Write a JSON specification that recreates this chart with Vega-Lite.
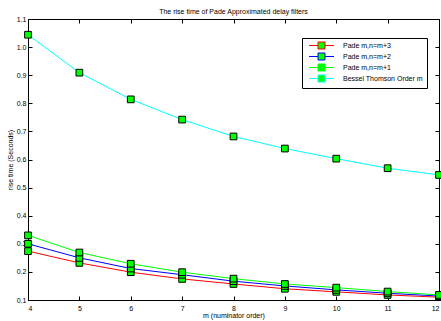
{
  "$schema": "https://vega.github.io/schema/vega-lite/v6.json",
  "width": 411,
  "height": 281,
  "autosize": {"type": "none"},
  "padding": {"left": 28, "top": 19, "right": 2, "bottom": 21},
  "background": "white",
  "title": {"text": "The rise time of Pade Approximated delay filters", "fontSize": 7, "fontWeight": "normal", "font": "Liberation Sans", "offset": 0, "color": "black"},
  "config": {
    "view": {"stroke": "black", "strokeWidth": 1},
    "font": "Liberation Sans",
    "axis": {"domainColor": "black", "tickColor": "black", "labelColor": "black", "titleColor": "black", "labelFontSize": 7, "titleFontSize": 7, "titleFontWeight": "normal", "grid": false, "tickSize": -4, "labelFont": "Liberation Sans", "titleFont": "Liberation Sans"}
  },
  "data": {"values": [
    {"m": 4, "t": 0.274, "s": "Pade m,n=m+3"},
    {"m": 5, "t": 0.232, "s": "Pade m,n=m+3"},
    {"m": 6, "t": 0.199, "s": "Pade m,n=m+3"},
    {"m": 7, "t": 0.175, "s": "Pade m,n=m+3"},
    {"m": 8, "t": 0.157, "s": "Pade m,n=m+3"},
    {"m": 9, "t": 0.140, "s": "Pade m,n=m+3"},
    {"m": 10, "t": 0.129, "s": "Pade m,n=m+3"},
    {"m": 11, "t": 0.118, "s": "Pade m,n=m+3"},
    {"m": 12, "t": 0.110, "s": "Pade m,n=m+3"},
    {"m": 4, "t": 0.300, "s": "Pade m,n=m+2"},
    {"m": 5, "t": 0.250, "s": "Pade m,n=m+2"},
    {"m": 6, "t": 0.212, "s": "Pade m,n=m+2"},
    {"m": 7, "t": 0.190, "s": "Pade m,n=m+2"},
    {"m": 8, "t": 0.167, "s": "Pade m,n=m+2"},
    {"m": 9, "t": 0.150, "s": "Pade m,n=m+2"},
    {"m": 10, "t": 0.136, "s": "Pade m,n=m+2"},
    {"m": 11, "t": 0.124, "s": "Pade m,n=m+2"},
    {"m": 12, "t": 0.114, "s": "Pade m,n=m+2"},
    {"m": 4, "t": 0.330, "s": "Pade m,n=m+1"},
    {"m": 5, "t": 0.269, "s": "Pade m,n=m+1"},
    {"m": 6, "t": 0.229, "s": "Pade m,n=m+1"},
    {"m": 7, "t": 0.199, "s": "Pade m,n=m+1"},
    {"m": 8, "t": 0.176, "s": "Pade m,n=m+1"},
    {"m": 9, "t": 0.157, "s": "Pade m,n=m+1"},
    {"m": 10, "t": 0.144, "s": "Pade m,n=m+1"},
    {"m": 11, "t": 0.130, "s": "Pade m,n=m+1"},
    {"m": 12, "t": 0.118, "s": "Pade m,n=m+1"},
    {"m": 4, "t": 1.044, "s": "Bessel Thomson Order m"},
    {"m": 5, "t": 0.909, "s": "Bessel Thomson Order m"},
    {"m": 6, "t": 0.814, "s": "Bessel Thomson Order m"},
    {"m": 7, "t": 0.742, "s": "Bessel Thomson Order m"},
    {"m": 8, "t": 0.682, "s": "Bessel Thomson Order m"},
    {"m": 9, "t": 0.639, "s": "Bessel Thomson Order m"},
    {"m": 10, "t": 0.603, "s": "Bessel Thomson Order m"},
    {"m": 11, "t": 0.569, "s": "Bessel Thomson Order m"},
    {"m": 12, "t": 0.545, "s": "Bessel Thomson Order m"}
  ]},
  "layer": [
    {
      "mark": {"type": "line", "strokeWidth": 1},
      "encoding": {
        "x": {"field": "m", "type": "quantitative", "scale": {"domain": [4, 12], "nice": false, "zero": false}, "axis": {"title": "m (numinator order)", "values": [4,5,6,7,8,9,10,11,12], "labelPadding": 8, "titlePadding": 0}},
        "y": {"field": "t", "type": "quantitative", "scale": {"domain": [0.1, 1.1], "nice": false, "zero": false}, "axis": {"title": "rise time (Seconds)", "values": [0.1,0.2,0.3,0.4,0.5,0.6,0.7,0.8,0.9,1,1.1], "labelPadding": 6, "titlePadding": 3}},
        "color": {"field": "s", "type": "nominal", "scale": {"domain": ["Pade m,n=m+3", "Pade m,n=m+2", "Pade m,n=m+1", "Bessel Thomson Order m"], "range": ["#ff0000", "#0000ff", "#00ff00", "#00ffff"]},
          "legend": {"title": null, "orient": "none", "legendX": 274, "legendY": 19, "strokeColor": "black", "fillColor": "white", "padding": 4, "labelFontSize": 7, "labelColor": "black", "rowPadding": 0, "labelOffset": 18, "labelLimit": 200,
            "symbolType": "M-5,0L-1.4,0M1.4,0L5,0M-1.4,-1.4L1.4,-1.4L1.4,1.4L-1.4,1.4Z", "symbolFillColor": "#00ff00", "symbolSize": 25, "symbolStrokeWidth": 1, "symbolOffset": 12}}
      }
    },
    {
      "mark": {"type": "point", "shape": "square", "filled": true, "fill": "#00ff00", "stroke": "black", "strokeWidth": 1, "size": 45, "opacity": 1},
      "encoding": {
        "x": {"field": "m", "type": "quantitative", "axis": {"orient": "top", "labels": false, "title": null, "values": [4,5,6,7,8,9,10,11,12]}},
        "y": {"field": "t", "type": "quantitative", "axis": {"orient": "right", "labels": false, "title": null, "values": [0.1,0.2,0.3,0.4,0.5,0.6,0.7,0.8,0.9,1,1.1]}}
      }
    }
  ],
  "resolve": {"axis": {"x": "independent", "y": "independent"}}
}
